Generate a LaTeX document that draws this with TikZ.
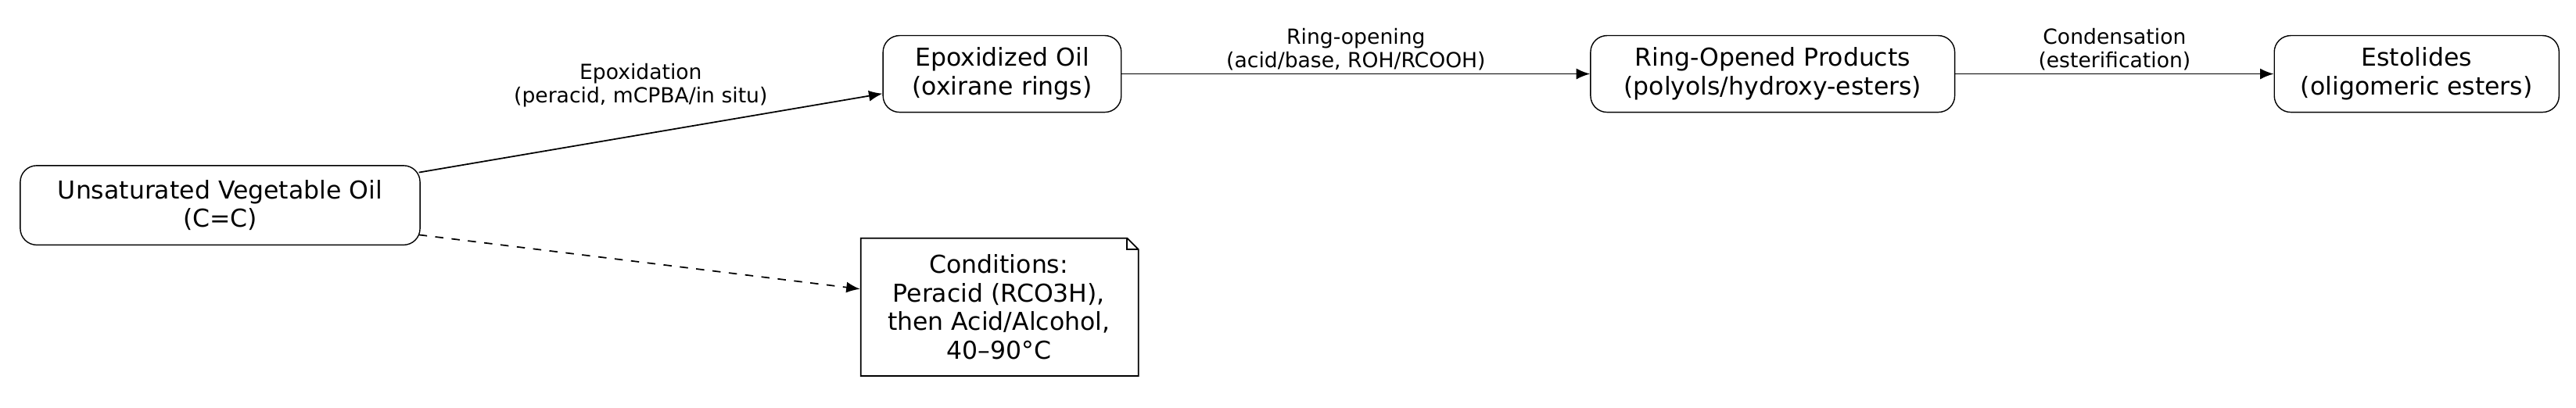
\documentclass[tikz,border=0pt]{standalone}
\usepackage{fontspec}
\setmainfont{DejaVu Sans}
\usetikzlibrary{arrows.meta,shapes.misc}
\begin{document}
\begin{tikzpicture}[x=0.6pt,y=-0.6pt,
  box/.style={draw,rounded corners=6pt,align=center,font=\fontsize{9}{10.5}\selectfont,inner sep=0pt},
  lab/.style={font=\fontsize{7.6}{8.6}\selectfont,align=center,inner sep=1pt},
  arr/.style={-{Latex[length=5pt,width=4pt]},line width=0.5pt}]
\useasboundingbox (0,0) rectangle (1568,248);
\node[box,minimum width=146pt,minimum height=29pt] (a) at (134,125) {Unsaturated Vegetable Oil\\(C=C)};
\node[box,minimum width=87pt,minimum height=28pt] (b) at (610,45) {Epoxidized Oil\\(oxirane rings)};
\node[box,minimum width=133pt,minimum height=28pt] (c) at (1079,45) {Ring-Opened Products\\(polyols/hydroxy-esters)};
\node[box,minimum width=104pt,minimum height=28pt] (d) at (1471,45) {Estolides\\(oligomeric esters)};
\node[align=center,font=\fontsize{9}{10.5}\selectfont,minimum width=101pt,minimum height=50pt,inner sep=0pt] (n) at (608,187) {Conditions:\\Peracid (RCO3H),\\then Acid/Alcohol,\\40–90°C};
\draw[line width=0.5pt] (524,145) -- (686,145) -- (693,152) -- (693,229) -- (524,229) -- cycle;
\draw[line width=0.5pt] (686,145) -- (686,152) -- (693,152);
\draw[arr] (a.north east) ++(0,0) coordinate (s) (255,105) -- (b.west|-0,57) coordinate (t);
\draw[arr] (b) -- node[lab,above] {Ring-opening\\(acid/base, ROH/RCOOH)} (c);
\draw[arr] (c) -- node[lab,above] {Condensation\\(esterification)} (d);
\draw[arr,dashed] (255,143) -- (n.west|-0,176);
\node[lab] (l1) at (390,52) {Epoxidation\\(peracid, mCPBA/in situ)};
\end{tikzpicture}
\end{document}
